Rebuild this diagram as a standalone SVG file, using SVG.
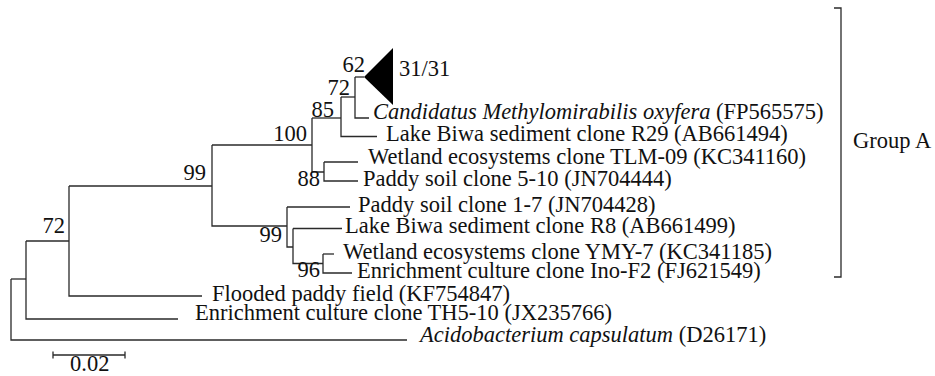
<svg xmlns="http://www.w3.org/2000/svg" width="935" height="376" viewBox="0 0 935 376">
<style>
text{font-family:"Liberation Serif","Times New Roman",serif;font-size:22.5px;fill:#111}
.bs{text-anchor:end}
.it{font-style:italic}
.ln{fill:none;stroke:#2a2a2a;stroke-width:1.3}
</style>
<rect width="935" height="376" fill="#fff"/>
<g id="connectors" class="ln">
<path d="M11,279 V340 H407"/>
<path d="M11,279 H26"/>
<path d="M26,241 V319 H178"/>
<path d="M26,241 H69"/>
<path d="M69,186 V296 H202"/>
<path d="M69,186 H212"/>
<path d="M212,145 V226 H287"/>
<path d="M212,145 H312"/>
<path d="M312,118 V172 H324"/>
<path d="M312,118 H341"/>
<path d="M341,97 V136.5 H377"/>
<path d="M341,97 H355"/>
<path d="M355,77 V118 H369"/>
<path d="M355,77 H364"/>
<path d="M324,162 V181 H358"/>
<path d="M324,162 H358"/>
<path d="M287,207 V247 H293"/>
<path d="M287,207 H350"/>
<path d="M293,228.5 V263.5 H323"/>
<path d="M293,228.5 H342"/>
<path d="M323,254 V273 H352"/>
<path d="M323,254 H334"/>
</g>
<g id="collapsed-clade">
<polygon points="364,77 393,48 393,105" fill="#000"/>
<text x="399" y="76">31/31</text>
</g>
<g id="bootstrap">
<text class="bs" x="365" y="72">62</text>
<text class="bs" x="350" y="95">72</text>
<text class="bs" x="334" y="117">85</text>
<text class="bs" x="307" y="141">100</text>
<text class="bs" x="320" y="186">88</text>
<text class="bs" x="206" y="180">99</text>
<text class="bs" x="282" y="242">99</text>
<text class="bs" x="320" y="277">96</text>
<text class="bs" x="65" y="233">72</text>
</g>
<g id="leaf-candidatus"><text x="373" y="119"><tspan class="it">Candidatus Methylomirabilis oxyfera</tspan> (FP565575)</text></g>
<g id="leaf-r29"><text x="386" y="141">Lake Biwa sediment clone R29 (AB661494)</text></g>
<g id="leaf-tlm09"><text x="368" y="164">Wetland ecosystems clone TLM-09 (KC341160)</text></g>
<g id="leaf-510"><text x="363" y="186">Paddy soil clone 5-10 (JN704444)</text></g>
<g id="leaf-17"><text x="358" y="211.5">Paddy soil clone 1-7 (JN704428)</text></g>
<g id="leaf-r8"><text x="345" y="233">Lake Biwa sediment clone R8 (AB661499)</text></g>
<g id="leaf-ymy7"><text x="343" y="259">Wetland ecosystems clone YMY-7 (KC341185)</text></g>
<g id="leaf-inof2"><text x="357" y="278">Enrichment culture clone Ino-F2 (FJ621549)</text></g>
<g id="leaf-flooded"><text x="212" y="301">Flooded paddy field (KF754847)</text></g>
<g id="leaf-th510"><text x="195" y="320">Enrichment culture clone TH5-10 (JX235766)</text></g>
<g id="leaf-acido"><text x="420" y="342"><tspan class="it">Acidobacterium capsulatum</tspan> (D26171)</text></g>
<g id="group-a">
<path class="ln" d="M834,8 H841 V277 H834"/>
<text x="853" y="148">Group A</text>
</g>
<g id="scale-bar">
<path class="ln" d="M53,355 H125 M53,351.5 V358.5 M125,351.5 V358.5"/>
<text x="70" y="371">0.02</text>
</g>
</svg>
